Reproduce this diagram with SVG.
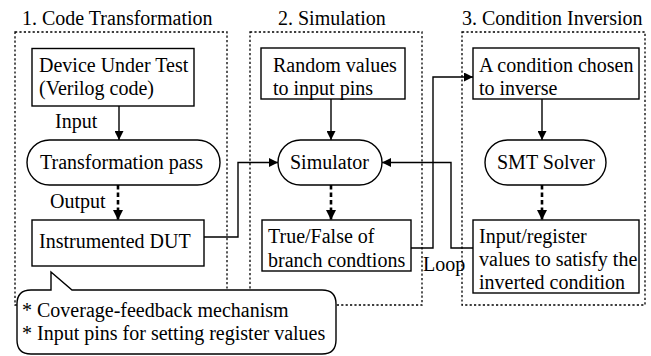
<svg xmlns="http://www.w3.org/2000/svg" width="651" height="356" viewBox="0 0 651 356">
  <style>
    text { font-family: 'Liberation Serif', 'DejaVu Serif', serif; font-size: 20px; fill: #000; }
    .panel { fill: none; stroke: #000; stroke-width: 1.3; stroke-dasharray: 2.2 2.2; }
    .box { fill: #fff; stroke: #000; stroke-width: 1.4; }
    .wire { fill: none; stroke: #000; stroke-width: 1.4; }
    .flow { fill: none; stroke: #000; stroke-width: 2.6; stroke-dasharray: 4.5 3; }
    .callout { fill: #fff; stroke: #000; stroke-width: 1.4; }
  </style>
  <defs>
    <marker id="head" viewBox="0 0 10 10" refX="10" refY="5" markerWidth="9" markerHeight="9" markerUnits="userSpaceOnUse" orient="auto">
      <path d="M0,0 L10,5 L0,10 Z" fill="#000"/>
    </marker>
    <marker id="headBold" viewBox="0 0 10 10" refX="10" refY="5" markerWidth="10" markerHeight="10" markerUnits="userSpaceOnUse" orient="auto">
      <path d="M0,0 L10,5 L0,10 Z" fill="#000"/>
    </marker>
  </defs>

  <!-- stage panels -->
  <g id="stages">
    <g id="stage-1">
      <rect class="panel" x="15" y="32" width="212" height="273"/>
      <text x="22" y="25" font-family="Liberation Serif, serif">1. Code Transformation</text>
    </g>
    <g id="stage-2">
      <rect class="panel" x="250" y="32" width="172" height="273"/>
      <text x="278" y="25">2. Simulation</text>
    </g>
    <g id="stage-3">
      <rect class="panel" x="462" y="32" width="183" height="273"/>
      <text x="462" y="25">3. Condition Inversion</text>
    </g>
  </g>

  <!-- connectors -->
  <g id="connectors">
    <path class="wire" d="M119,106 V140" marker-end="url(#head)"/>
    <path class="flow" d="M118,185 V220" marker-end="url(#headBold)"/>
    <path class="wire" d="M331,99 V140" marker-end="url(#head)"/>
    <path class="flow" d="M331,185 V220" marker-end="url(#headBold)"/>
    <path class="wire" d="M542,99 V140" marker-end="url(#head)"/>
    <path class="flow" d="M542,185 V220" marker-end="url(#headBold)"/>
    <path class="wire" d="M204,237 H238 V162.5 H278" marker-end="url(#head)"/>
    <path class="wire" d="M411,248 H433 V77 H473" marker-end="url(#head)"/>
    <path class="wire" d="M473,248 H451 V162.5 H382" marker-end="url(#head)"/>
    <text x="55" y="128">Input</text>
    <text x="50" y="208">Output</text>
    <text x="423" y="271">Loop</text>
  </g>

  <!-- nodes -->
  <g id="dut">
    <rect class="box" x="32" y="48.5" width="162" height="57.5"/>
    <text x="39" y="72">Device Under Test</text>
    <text x="39" y="95">(Verilog code)</text>
  </g>
  <g id="transformation-pass">
    <rect class="box" x="27" y="140" width="193" height="45" rx="22.5"/>
    <text x="40" y="169">Transformation pass</text>
  </g>
  <g id="instrumented-dut">
    <rect class="box" x="32" y="220" width="172" height="46"/>
    <text x="39" y="248">Instrumented DUT</text>
  </g>
  <g id="random-values">
    <rect class="box" x="261" y="48" width="144" height="51"/>
    <text x="273" y="72">Random values</text>
    <text x="273" y="95">to input pins</text>
  </g>
  <g id="simulator">
    <rect class="box" x="278" y="140" width="104" height="45" rx="22.5"/>
    <text x="290" y="169">Simulator</text>
  </g>
  <g id="branch-results">
    <rect class="box" x="262" y="220" width="149" height="51"/>
    <text x="268" y="243">True/False of</text>
    <text x="268" y="267">branch condtions</text>
  </g>
  <g id="chosen-condition">
    <rect class="box" x="473" y="48" width="166" height="51"/>
    <text x="479" y="72">A condition chosen</text>
    <text x="479" y="95">to inverse</text>
  </g>
  <g id="smt-solver">
    <rect class="box" x="485" y="140" width="121" height="45" rx="22.5"/>
    <text x="497" y="169">SMT Solver</text>
  </g>
  <g id="solved-values">
    <rect class="box" x="473" y="220" width="166" height="73"/>
    <text x="479" y="243">Input/register</text>
    <text x="479" y="266">values to satisfy the</text>
    <text x="479" y="289">inverted condition</text>
  </g>

  <!-- note attached to the instrumented DUT -->
  <g id="note">
    <path class="callout" d="M31,290 H51 V272 L72,290 H322 Q336,290 336,304 V340 Q336,354 322,354 H31 Q17,354 17,340 V304 Q17,290 31,290 Z"/>
    <text x="22" y="317">* Coverage-feedback mechanism</text>
    <text x="22" y="340">* Input pins for setting register values</text>
  </g>
</svg>
